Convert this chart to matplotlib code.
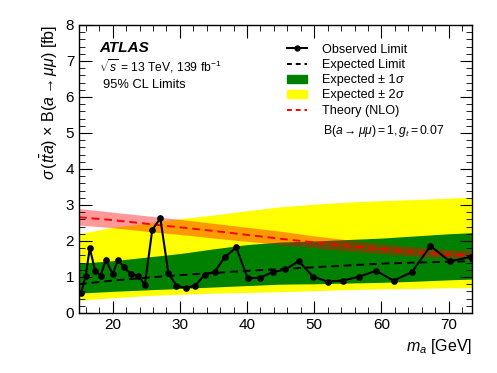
import numpy as np
import matplotlib.pyplot as plt
from matplotlib.lines import Line2D
from matplotlib.patches import Patch

plt.rcParams['font.family'] = ['Liberation Sans', 'DejaVu Sans']
plt.rcParams['mathtext.fontset'] = 'custom'
plt.rcParams['mathtext.rm'] = 'Liberation Sans'
plt.rcParams['mathtext.it'] = 'Liberation Sans:italic'
plt.rcParams['mathtext.bf'] = 'Liberation Sans:bold'

# observed limit
obs_m = [15.3, 16.0, 16.6, 17.4, 18.2, 19.0, 20.0, 20.8, 21.7, 22.7, 23.8, 24.8,
         25.9, 27.1, 28.3, 29.5, 30.9, 32.3, 33.7, 35.2, 36.7, 38.4, 40.1, 41.9,
         43.8, 45.7, 47.7, 49.8, 52.0, 54.3, 56.7, 59.2, 61.8, 64.5, 67.3, 70.2, 73.3]
obs = [0.55, 1.04, 1.80, 1.17, 1.04, 1.47, 1.08, 1.47, 1.27, 1.08, 1.04, 0.78,
       2.31, 2.63, 1.10, 0.76, 0.69, 0.76, 1.06, 1.15, 1.55, 1.82, 0.96, 0.98,
       1.13, 1.21, 1.44, 1.01, 0.87, 0.90, 1.01, 1.17, 0.90, 1.13, 1.86, 1.43, 1.56]

# expected limit and bands
exp_m = [15, 20, 25, 30, 35, 40, 45, 50, 55, 60, 65, 70, 73.5]
exp = [0.80, 0.90, 0.98, 1.05, 1.11, 1.17, 1.22, 1.27, 1.32, 1.37, 1.40, 1.42, 1.44]
m1s = [0.55, 0.60, 0.64, 0.68, 0.72, 0.76, 0.80, 0.81, 0.83, 0.85, 0.88, 0.92, 0.94]
p1s = [1.38, 1.45, 1.55, 1.65, 1.78, 1.90, 1.97, 2.00, 2.04, 2.08, 2.14, 2.20, 2.23]
m2s = [0.36, 0.42, 0.48, 0.52, 0.55, 0.57, 0.59, 0.62, 0.65, 0.67, 0.68, 0.70, 0.70]
p2s = [2.20, 2.38, 2.49, 2.62, 2.72, 2.84, 2.95, 3.02, 3.08, 3.12, 3.15, 3.19, 3.21]

# theory (NLO)
th_m = [15, 20, 25, 30, 35, 40, 45, 50, 55, 60, 65, 70, 73.5]
th = [2.66, 2.58, 2.48, 2.38, 2.28, 2.17, 2.06, 1.96, 1.86, 1.77, 1.69, 1.62, 1.59]
th_lo = [2.44, 2.37, 2.27, 2.18, 2.08, 1.99, 1.90, 1.81, 1.72, 1.65, 1.58, 1.53, 1.50]
th_hi = [2.90, 2.80, 2.70, 2.60, 2.49, 2.38, 2.27, 2.14, 2.03, 1.92, 1.83, 1.76, 1.73]

fig = plt.figure(figsize=(4.97, 3.73), dpi=100)
ax = fig.add_axes([0.159, 0.161, 0.791, 0.772])

ax.fill_between(exp_m, m2s, p2s, color='#ffff00', lw=0)
ax.fill_between(exp_m, m1s, p1s, color='#008000', lw=0)
ax.fill_between(th_m, th_lo, th_hi, color='red', alpha=0.4, lw=0)
ax.plot(exp_m, exp, '--', color='black', lw=1.4, dashes=(4, 2.5))
ax.plot(th_m, th, '--', color='red', lw=1.4, dashes=(4, 2.5))
ax.plot(obs_m, obs, '-o', color='black', lw=1.5, ms=3.8)

ax.set_xlim(15, 73.5)
ax.set_ylim(0, 8)
ax.set_xticks(np.arange(20, 71, 10))
ax.set_xticks(np.arange(16, 74, 2), minor=True)
ax.set_yticks(np.arange(0, 9, 1))
ax.set_yticks(np.arange(0, 8.01, 0.2), minor=True)
ax.tick_params(which='both', direction='in', top=True, right=True, labelsize=11)
ax.tick_params(which='major', length=9)
ax.tick_params(which='minor', length=4.5)
for s in ax.spines.values():
    s.set_linewidth(1.0)

ax.set_xlabel(r'$m_a$ [GeV]', fontsize=11.5, loc='right')
ax.set_ylabel(r'$\sigma\,(t\bar{t}a)$ $\times$ B$(a \rightarrow \mu\mu)$ [fb]',
              fontsize=11.5, loc='top')

fig.text(0.199, 0.861, 'ATLAS', fontsize=11, fontweight='bold', style='italic')
fig.text(0.199, 0.808, r'$\sqrt{s}$ = 13 TeV, 139 fb$^{-1}$', fontsize=8.7)
fig.text(0.207, 0.765, '95% CL Limits', fontsize=9.3)

handles = [
    Line2D([], [], color='black', lw=1.5, marker='o', ms=3.5),
    Line2D([], [], color='black', lw=1.4, ls='--', dashes=(2.5, 2)),
    Patch(color='#008000'),
    Patch(color='#ffff00'),
    Line2D([], [], color='red', lw=1.4, ls='--', dashes=(2.5, 2)),
]
labels = ['Observed Limit', 'Expected Limit', 'Expected ± 1',
          'Expected ± 2', 'Theory (NLO)']
leg = ax.legend(handles, labels, loc='upper left', bbox_to_anchor=(0.577, 0.883),
                bbox_transform=fig.transFigure, frameon=False, fontsize=9.1,
                handlelength=1.6, handleheight=0.58, labelspacing=0.26,
                handletextpad=1.15, borderaxespad=0, borderpad=0)
# italic sigma after the band labels (drawn after the legend)
for t in leg.get_texts()[2:4]:
    ax.annotate('σ', xy=(1, 0), xycoords=t, xytext=(0.4, 0),
                textcoords='offset points', ha='left', va='bottom',
                fontsize=9.1, style='italic', zorder=10)
fig.text(0.65, 0.642, r'B$(a \rightarrow \mu\mu) = 1, g_t = 0.07$', fontsize=8.7)

fig.savefig('out.png', dpi=100)
